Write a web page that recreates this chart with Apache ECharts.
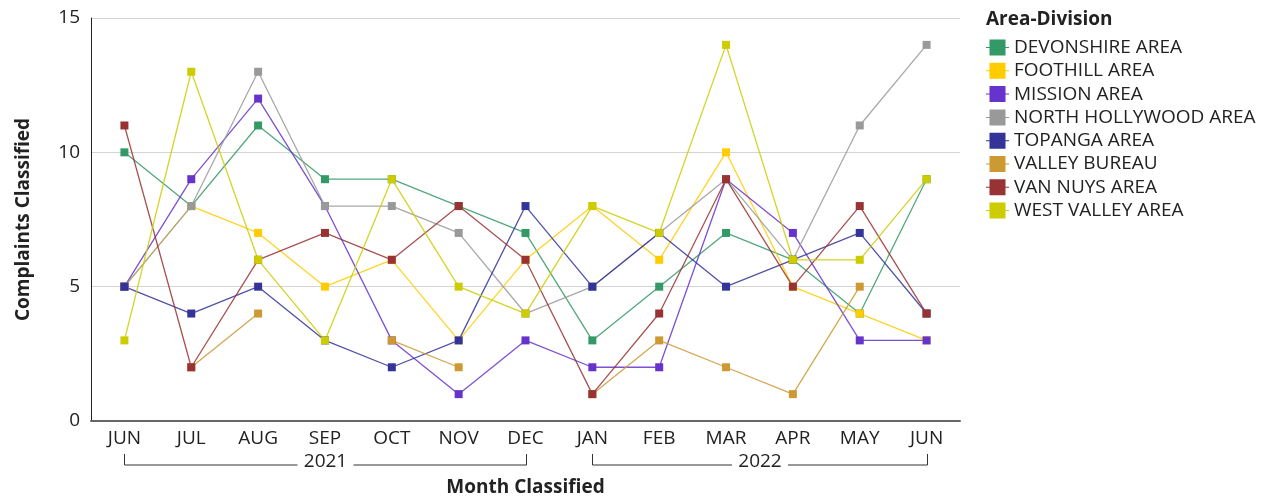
<!DOCTYPE html>
<html>
<head>
<meta charset="utf-8">
<script src="https://cdn.jsdelivr.net/npm/echarts@6/dist/echarts.min.js"></script>
<style>
  html, body { margin: 0; padding: 0; background: #fff; }
  #main { width: 1266px; height: 498px; }
</style>
</head>
<body>
<div id="main"></div>
<script>
// 月份与年份分组
var months = ['JUN', 'JUL', 'AUG', 'SEP', 'OCT', 'NOV', 'DEC', 'JAN', 'FEB', 'MAR', 'APR', 'MAY', 'JUN'];
var years = ['2021', '2022'];
var yearStart = [0, 7];
var yearEnd = [6, 12];
var yTicks = [0, 5, 10, 15];

// 各区投诉数量
var devonshire = [10, 8, 11, 9, 9, 8, 7, 3, 5, 7, 6, 4, 9];
var foothill = [5, 8, 7, 5, 6, 3, 6, 8, 6, 10, 5, 4, 3];
var mission = [5, 9, 12, 8, 3, 1, 3, 2, 2, 9, 7, 3, 3];
var northHollywood = [5, 8, 13, 8, 8, 7, 4, 5, 7, 9, 6, 11, 14];
var topanga = [5, 4, 5, 3, 2, 3, 8, 5, 7, 5, 6, 7, 4];
var valleyBureau = [null, 2, 4, null, 3, 2, null, 1, 3, 2, 1, 5, null];
var vanNuys = [11, 2, 6, 7, 6, 8, 6, 1, 4, 9, 5, 8, 4];
var westValley = [3, 13, 6, 3, 9, 5, 4, 8, 7, 14, 6, 6, 9];

var seriesNames = ['DEVONSHIRE AREA', 'FOOTHILL AREA', 'MISSION AREA', 'NORTH HOLLYWOOD AREA',
  'TOPANGA AREA', 'VALLEY BUREAU', 'VAN NUYS AREA', 'WEST VALLEY AREA'];
var seriesData = [devonshire, foothill, mission, northHollywood, topanga, valleyBureau, vanNuys, westValley];
var colors = ['#339966', '#FFCC00', '#6633CC', '#999999', '#333399', '#CC9933', '#993333', '#CCCC00'];

var font = '"Open Sans", "Noto Sans", sans-serif';
var fs = 19;
// 图例图标：细线 + 方块
var legendIcon = 'path://M0,7.5H23V8.5H0Z M3.5,0H19.5V16H3.5Z';

var myChart = echarts.init(document.getElementById('main'));

var series = seriesNames.map(function (name, i) {
  return {
    name: name,
    type: 'line',
    data: seriesData[i],
    symbol: 'rect',
    symbolSize: 8,
    connectNulls: false,
    lineStyle: { width: 1.3, opacity: 0.85 },
    itemStyle: { color: colors[i] },
    emphasis: { disabled: true }
  };
});

myChart.setOption({
  animation: false,
  color: colors,
  textStyle: { fontFamily: font },
  title: {
    text: 'Area-Division',
    left: 986,
    top: 10,
    padding: 0,
    textStyle: { fontFamily: font, fontSize: fs, fontWeight: 'bold', color: '#222' }
  },
  legend: {
    orient: 'vertical',
    left: 986,
    top: 38,
    padding: 0,
    itemWidth: 23,
    itemHeight: 16,
    itemGap: 4.3,
    icon: legendIcon,
    textStyle: { fontFamily: font, fontSize: fs, color: '#222', lineHeight: 16 },
    data: seriesNames
  },
  grid: {
    left: 91,
    right: 306,
    top: 18,
    bottom: 77,
    outerBoundsMode: 'none',
    containLabel: false
  },
  xAxis: {
    type: 'category',
    data: months,
    boundaryGap: true,
    name: 'Month Classified',
    nameLocation: 'middle',
    nameGap: 57,
    nameTextStyle: { fontFamily: font, fontSize: fs, fontWeight: 'bold', color: '#222' },
    axisLine: { lineStyle: { color: '#666', width: 2 } },
    axisTick: { show: false },
    axisLabel: { fontFamily: font, fontSize: fs, color: '#222', margin: 8 }
  },
  yAxis: {
    type: 'value',
    min: yTicks[0],
    max: yTicks[yTicks.length - 1],
    interval: 5,
    name: 'Complaints Classified',
    nameLocation: 'middle',
    nameGap: 58,
    nameTextStyle: { fontFamily: font, fontSize: fs, fontWeight: 'bold', color: '#222' },
    axisLine: { show: true, lineStyle: { color: '#222', width: 1 } },
    axisTick: { show: false },
    axisLabel: { fontFamily: font, fontSize: fs, color: '#222', margin: 11 },
    splitLine: { lineStyle: { color: '#d4d4d4', width: 1 } }
  },
  series: series
});

// 年份分组括号，位置由坐标轴换算
var graphics = [];
var yTop = 454, yLine = 465, gap = 28;
years.forEach(function (yr, i) {
  var x0 = Math.round(myChart.convertToPixel({ xAxisIndex: 0 }, yearStart[i])) + 0.5;
  var x1 = Math.round(myChart.convertToPixel({ xAxisIndex: 0 }, yearEnd[i])) + 0.5;
  var xm = (x0 + x1) / 2;
  var ls = { stroke: '#333', lineWidth: 1 };
  graphics.push({ type: 'polyline', shape: { points: [[x0, yTop], [x0, yLine], [xm - gap, yLine]] }, style: ls, silent: true });
  graphics.push({ type: 'polyline', shape: { points: [[xm + gap, yLine], [x1, yLine], [x1, yTop]] }, style: ls, silent: true });
  graphics.push({
    type: 'text', x: xm, y: yLine - 3,
    style: { text: yr, fill: '#222', font: fs + 'px ' + font, align: 'center', verticalAlign: 'middle' },
    silent: true
  });
});
myChart.setOption({ graphic: graphics });
</script>
</body>
</html>
